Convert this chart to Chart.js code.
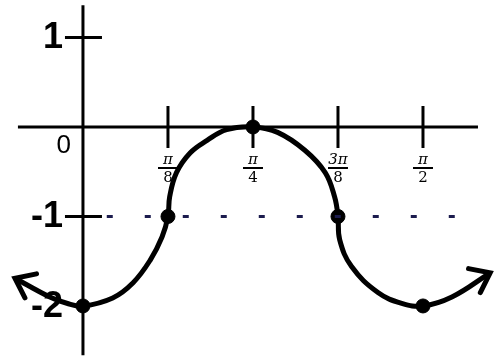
<!DOCTYPE html>
<html>
<head>
<meta charset="utf-8">
<script src="https://cdn.jsdelivr.net/npm/chart.js@4"></script>
<style>
  body { margin: 0; background: #fff; }
  #wrap { width: 500px; height: 361px; }
</style>
</head>
<body>
<div id="wrap"><canvas id="graph"></canvas></div>
<script>
// x in units of pi/8, y plain
const curveX = [-0.8, -0.39, -0.19, 0, 0.35, 0.59, 0.79, 0.93, 1, 1.02, 1.1, 1.26, 1.46, 1.69, 2,
                2.29, 2.61, 2.85, 2.96, 3, 3.02, 3.16, 3.47, 3.75, 4, 4.34, 4.79];
const curveY = [-1.69, -1.9, -1.97, -2, -1.91, -1.74, -1.49, -1.23, -1, -0.78, -0.51, -0.29, -0.15, -0.03, 0,
                -0.06, -0.26, -0.51, -0.78, -1, -1.26, -1.56, -1.85, -1.97, -2, -1.9, -1.63];
const keyX = [0, 1, 2, 3, 4];
const keyY = [-2, -1, 0, -1, -2];
const midlineX = [0.28, 4.7];
const midlineY = [-1, -1];
const xTickValues = [1, 2, 3, 4];
const xTickNums = ['π', 'π', '3π', 'π'];
const xTickDens = ['8', '4', '8', '2'];
const yTickValues = [1, -1, -2];
const yTickLabels = ['1', '-1', '-2'];

function pts(xs, ys) {
    return xs.map((x, i) => ({ x: x, y: ys[i] }));
}

// axes, ticks, labels, arrows
const axesPlugin = {
    id: 'axes',
    beforeDatasetsDraw(chart) {
        const ctx = chart.ctx;
        const xs = chart.scales.x, ys = chart.scales.y;
        const x0 = xs.getPixelForValue(0), y0 = ys.getPixelForValue(0);
        ctx.save();
        ctx.strokeStyle = '#000';
        ctx.lineWidth = 3;
        ctx.beginPath();
        ctx.moveTo(xs.getPixelForValue(-0.765), y0);
        ctx.lineTo(xs.getPixelForValue(4.647), y0);
        ctx.moveTo(x0, ys.getPixelForValue(1.36));
        ctx.lineTo(x0, ys.getPixelForValue(-2.55));
        ctx.stroke();

        // x ticks + fraction labels
        ctx.fillStyle = '#000';
        ctx.textAlign = 'center';
        ctx.textBaseline = 'alphabetic';
        xTickValues.forEach((v, i) => {
            const px = xs.getPixelForValue(v);
            ctx.lineWidth = 3;
            ctx.beginPath();
            ctx.moveTo(px, y0 - 21);
            ctx.lineTo(px, y0 + 21);
            ctx.stroke();
            ctx.font = 'italic 15px "DejaVu Serif"';
            ctx.fillText(xTickNums[i], px, y0 + 37);
            ctx.lineWidth = 2;
            ctx.beginPath();
            ctx.moveTo(px - 10, y0 + 41);
            ctx.lineTo(px + 10, y0 + 41);
            ctx.stroke();
            ctx.font = '15px "DejaVu Serif"';
            ctx.fillText(xTickDens[i], px, y0 + 55);
        });

        // y ticks + labels
        ctx.textAlign = 'right';
        ctx.textBaseline = 'middle';
        ctx.font = 'bold 36px "Liberation Sans"';
        yTickValues.forEach((v, i) => {
            const py = ys.getPixelForValue(v);
            if (v !== -2) {
                ctx.lineWidth = 3;
                ctx.beginPath();
                ctx.moveTo(x0 - 18, py);
                ctx.lineTo(x0 + 19, py);
                ctx.stroke();
            }
            ctx.fillText(yTickLabels[i], x0 - 20, py + 1);
        });
        ctx.font = '26px "Liberation Sans"';
        ctx.fillText('0', x0 - 12, y0 + 19);
        ctx.restore();
    },
    afterDatasetsDraw(chart) {
        const ctx = chart.ctx;
        const p = chart.getDatasetMeta(1).data;
        const heads = [[p[0], p[2]], [p[p.length - 1], p[p.length - 3]]];
        ctx.save();
        ctx.strokeStyle = '#000';
        ctx.lineWidth = 5;
        ctx.lineCap = 'round';
        heads.forEach(([tip, from]) => {
            const a = Math.atan2(tip.y - from.y, tip.x - from.x);
            ctx.beginPath();
            ctx.moveTo(tip.x - 22 * Math.cos(a - 0.65), tip.y - 22 * Math.sin(a - 0.65));
            ctx.lineTo(tip.x, tip.y);
            ctx.lineTo(tip.x - 22 * Math.cos(a + 0.65), tip.y - 22 * Math.sin(a + 0.65));
            ctx.stroke();
        });
        ctx.restore();
    }
};

new Chart(document.getElementById('graph'), {
    type: 'scatter',
    data: {
        datasets: [{
            data: pts(midlineX, midlineY),
            showLine: true,
            borderColor: '#1c1c4e',
            borderWidth: 3,
            borderDash: [6, 32],
            pointRadius: 0
        }, {
            data: pts(curveX, curveY),
            showLine: true,
            borderColor: '#000',
            borderWidth: 5,
            tension: 0.4,
            pointRadius: 0
        }, {
            data: pts(keyX, keyY),
            backgroundColor: '#000',
            borderColor: '#000',
            pointRadius: 7
        }]
    },
    options: {
        responsive: true,
        maintainAspectRatio: false,
        animation: false,
        layout: { padding: 0, autoPadding: false },
        plugins: {
            legend: { display: false },
            tooltip: { enabled: false }
        },
        scales: {
            x: { type: 'linear', display: false, min: -0.976, max: 4.906 },
            y: { type: 'linear', display: false, min: -2.615, max: 1.419 }
        }
    },
    plugins: [axesPlugin]
});
</script>
</body>
</html>
